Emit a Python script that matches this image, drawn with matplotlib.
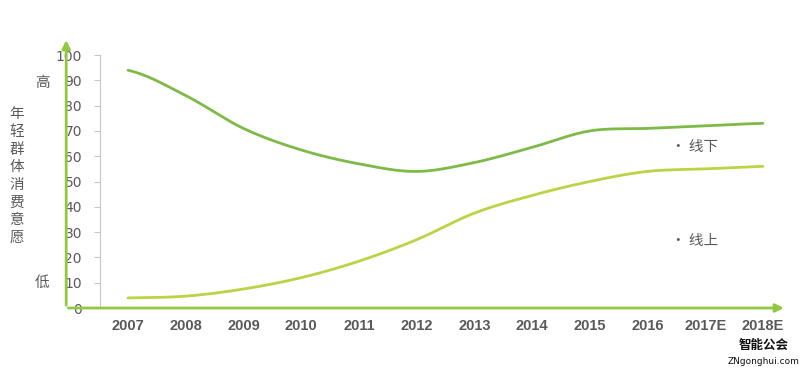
"""Young consumers' willingness to buy online vs offline, 2007-2018E."""
import matplotlib

matplotlib.use("Agg")
import matplotlib.pyplot as plt  # noqa: E402
import numpy as np  # noqa: E402

plt.rcParams["font.family"] = ["DejaVu Sans", "Noto Sans CJK SC"]

years = ["2007", "2008", "2009", "2010", "2011", "2012", "2013", "2014",
         "2015", "2016", "2017E", "2018E"]
offline = [94, 84, 71, 62.5, 57, 54, 57.5, 63.5, 70, 71, 72, 73]
online = [4, 4.7, 7.5, 12, 18.5, 27, 37.5, 44.5, 50, 54, 55, 56]
yticks = [0, 10, 20, 30, 40, 50, 60, 70, 80, 90, 100]

CJK = ["Noto Sans CJK SC", "DejaVu Sans"]
GREY = "#595959"


def smooth(y, n=20):
    """Catmull-Rom curve through the points (like Excel smoothed lines)."""
    y = np.asarray(y, float)
    x = np.arange(len(y), dtype=float)
    p = np.concatenate([[y[0]], y, [y[-1]]])
    xs, ys = [], []
    for i in range(len(y) - 1):
        t = np.linspace(0, 1, n, endpoint=False)
        p0, p1, p2, p3 = p[i], p[i + 1], p[i + 2], p[i + 3]
        ys.append(0.5 * (2 * p1 + (-p0 + p2) * t
                         + (2 * p0 - 5 * p1 + 4 * p2 - p3) * t ** 2
                         + (-p0 + 3 * p1 - 3 * p2 + p3) * t ** 3))
        xs.append(x[i] + t)
    xs.append([x[-1]])
    ys.append([y[-1]])
    return np.concatenate(xs), np.concatenate(ys)


fig = plt.figure(figsize=(8, 3.72), dpi=100)
ax = fig.add_axes([0.125, 0.172, 0.8625, 0.680])

x = np.arange(len(years))
ax.plot(*smooth(offline), color="#7dba47", lw=2.0, solid_capstyle="round")
ax.plot(*smooth(online), color="#b9d444", lw=2.0, solid_capstyle="round")

ax.set_xlim(-0.485, 11.47)
ax.set_ylim(0, 100)
ax.set_yticks(yticks)
ax.set_xticks(x)
ax.set_xticklabels(years)
for s in ["top", "right", "bottom"]:
    ax.spines[s].set_visible(False)
ax.spines["left"].set_color("#c8c8c8")
ax.tick_params(axis="y", colors="#c8c8c8", length=4, pad=9, labelsize=10,
               labelcolor=GREY)
ax.tick_params(axis="x", length=0, pad=8, labelcolor=GREY)
for lab in ax.get_xticklabels():
    lab.set_family(["Liberation Sans", "DejaVu Sans"])
    lab.set_fontsize(10.5)
    lab.set_fontweight("bold")

# green arrow axes
arrow = dict(arrowstyle="-|>", color="#92c83e", lw=2, mutation_scale=12)
ax.annotate("", xy=(-0.049, 1.07), xytext=(-0.049, 0),
            xycoords="axes fraction", arrowprops=arrow, annotation_clip=False)
ax.annotate("", xy=(0.995, 0), xytext=(-0.05, 0),
            xycoords="axes fraction", arrowprops=arrow, annotation_clip=False)

# series labels
ax.text(9.4, 63.5, "• 线下", family=CJK, fontsize=10.5, color=GREY,
        va="center")
ax.text(9.4, 26.5, "• 线上", family=CJK, fontsize=10.5, color=GREY,
        va="center")

# left side labels
fig.text(0.053, (372 - 83) / 372, "高", family=CJK, fontsize=10.5,
         color=GREY, ha="center", va="center")
fig.text(0.053, (372 - 283) / 372, "低", family=CJK, fontsize=10.5,
         color=GREY, ha="center", va="center")
fig.text(0.021, (372 - 176) / 372, "\n".join("年轻群体消费意愿"), family=CJK,
         fontsize=10.5, color=GREY, ha="center", va="center", linespacing=1.33)

# watermark
fig.text(0.955, (372 - 345) / 372, "智能公会", family=CJK, fontsize=9,
         fontweight="bold", color="#111", ha="center", va="center")
fig.text(0.955, (372 - 362) / 372, "ZNgonghui.com", fontsize=6.5,
         color="#111", ha="center", va="center")

fig.savefig("out.png", dpi=100)
